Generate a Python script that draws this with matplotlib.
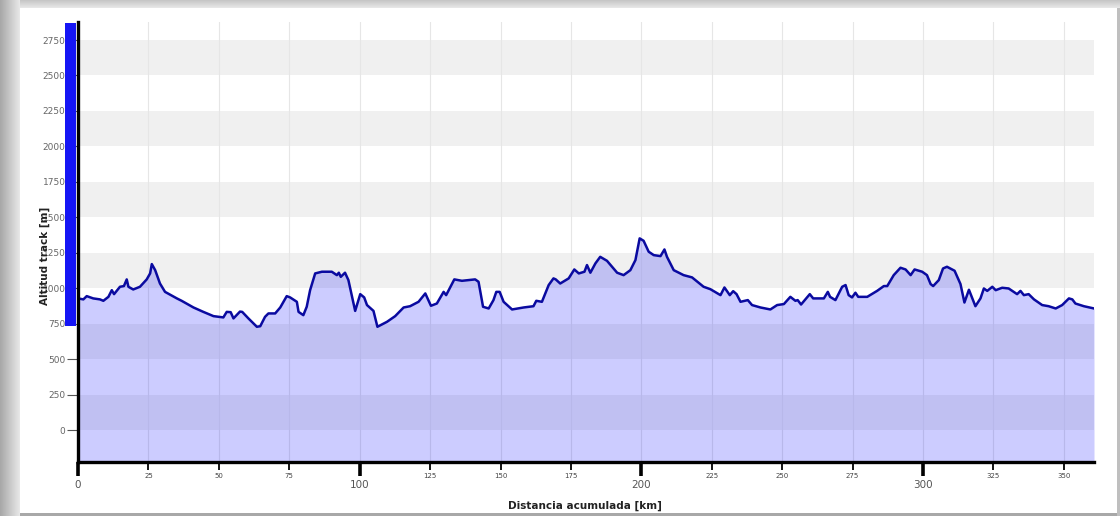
import numpy as np
import matplotlib
matplotlib.use("Agg")
import matplotlib.pyplot as plt
from matplotlib.patches import Rectangle
import matplotlib.transforms as mtransforms

# ---------------- data ----------------
dist_km = [0, 1.9, 3.1, 5.4, 7.8, 9.0, 10.8, 12.0, 12.8, 14.9, 16.3, 17.3, 17.9, 19.6,
           22.0, 24.4, 25.6, 26.2, 27.4, 29.1, 30.9, 35.1, 36.8, 41.0, 44.5, 48.1,
           51.6, 52.8, 54.2, 55.2, 57.5, 58.3, 60.5, 63.5, 64.7, 66.4, 67.6, 70.0,
           71.8, 74.1, 75.3, 77.7, 78.3, 80.0, 81.2, 82.4, 84.2, 86.6, 90.1, 91.9,
           92.6, 93.3, 94.8, 96.0, 98.4, 100.2, 101.6, 102.6, 104.9, 106.3, 109.7,
           112.6, 115.6, 117.9, 120.9, 123.3, 125.3, 127.4, 129.8, 130.7, 133.6,
           136.3, 141.0, 142.2, 143.8, 145.8, 147.5, 148.5, 149.7, 151.1, 154.1,
           158.2, 161.7, 162.7, 164.7, 167.1, 168.8, 169.6, 171.2, 174.2, 176.2,
           177.8, 179.8, 180.7, 181.9, 183.7, 185.4, 187.8, 191.4, 193.7, 196.1,
           197.9, 199.4, 200.8, 202.6, 204.4, 206.8, 208.2, 209.1, 211.5, 215.0,
           218.0, 222.1, 224.5, 228.1, 229.5, 231.4, 232.6, 233.8, 235.2, 237.8,
           239.3, 242.3, 245.8, 248.2, 250.6, 252.9, 254.7, 255.5, 256.7, 258.0,
           259.8, 261.0, 264.8, 266.2, 267.0, 268.9, 271.3, 272.5, 273.6, 274.8,
           276.0, 277.0, 280.2, 283.7, 286.1, 287.3, 289.6, 292.0, 293.8, 295.6,
           297.0, 299.7, 301.4, 302.7, 303.6, 305.6, 307.1, 308.5, 311.2, 313.3,
           314.7, 316.3, 318.6, 320.4, 321.6, 322.8, 324.6, 325.8, 328.1, 330.4,
           333.4, 334.6, 335.8, 337.5, 339.4, 342.3, 344.6, 347.1, 349.4, 351.8,
           353.0, 354.1, 357.1, 360.7]
altitude_m = [929, 922, 945, 929, 922, 912, 940, 987, 959, 1011, 1016, 1063, 1011, 992,
              1011, 1063, 1105, 1171, 1128, 1034, 975, 929, 912, 865, 834, 804,
              795, 834, 832, 788, 836, 834, 788, 729, 733, 799, 823, 823,
              865, 945, 936, 905, 834, 811, 870, 987, 1105, 1117, 1117, 1093,
              1110, 1081, 1110, 1058, 841, 959, 936, 882, 841, 729, 764,
              804, 865, 874, 905, 964, 877, 893, 975, 952, 1063,
              1053, 1063, 1046, 870, 858, 917, 975, 975, 905, 851,
              865, 874, 912, 905, 1023, 1070, 1063, 1034, 1070, 1133,
              1105, 1117, 1164, 1110, 1176, 1222, 1194, 1110, 1093, 1128,
              1199, 1352, 1335, 1258, 1234, 1227, 1274, 1222, 1128, 1093,
              1077, 1011, 994, 952, 1006, 952, 980, 959, 905, 917,
              882, 865, 851, 882, 889, 940, 912, 917, 886, 917,
              959, 929, 929, 975, 940, 917, 1011, 1023, 952, 936,
              969, 940, 940, 982, 1016, 1016, 1093, 1145, 1133, 1093,
              1133, 1117, 1093, 1030, 1016, 1058, 1140, 1152, 1124, 1030,
              900, 990, 874, 929, 999, 982, 1011, 987, 1004, 999,
              959, 982, 952, 959, 922, 882, 874, 858, 882, 929,
              922, 893, 874, 858]

y_ticks = [0, 250, 500, 750, 1000, 1250, 1500, 1750, 2000, 2250, 2500, 2750]
x_major = [0, 100, 200, 300]
x_minor = [25, 50, 75, 125, 150, 175, 225, 250, 275, 325, 350]
band_starts = [0, 500, 1000, 1500, 2000, 2500]
band_height = 250

xlabel = "Distancia acumulada [km]"
ylabel = "Altitud track [m]"

# ---------------- figure ----------------
W, H = 1120, 516
fig = plt.figure(figsize=(W / 100, H / 100), dpi=100)

# background frame with shadow
bg = fig.add_axes([0, 0, 1, 1])
img = np.ones((H, W)) * 1.0
xx = np.arange(W)[None, :] * np.ones((H, 1))
yy = np.arange(H)[:, None] * np.ones((1, W))
left = xx < 20
img[left] = (0.66 + 0.26 * (xx[left] / 20.0))
top = (yy < 8) & ~left
img[top] = 0.78 + 0.14 * (yy[top] / 8.0)
bottom = (yy >= 513) & ~left
img[bottom] = 0.66
right = (xx >= 1117) & ~left & ~top
img[right] = 0.75
bg.imshow(np.dstack([img] * 3), extent=[0, W, H, 0], aspect="auto", interpolation="bilinear")
bg.set_axis_off()

ax_l, ax_r = 78 / W, 1094 / W
ax_b, ax_t = 1 - 462 / H, 1 - 22 / H
ax = fig.add_axes([ax_l, ax_b, ax_r - ax_l, ax_t - ax_b])
ax.set_facecolor("white")
ax.set_xlim(0, dist_km[-1])
ax.set_ylim(-224, 2877)

for b in band_starts:
    ax.axhspan(b, b + band_height, color="#f0f0f0", lw=0, zorder=0)
for xv in x_major + x_minor:
    ax.axvline(xv, color="#e6e6e6", lw=0.8, zorder=0.5)

ax.fill_between(dist_km, altitude_m, -224, color=(0, 0, 1, 0.2), lw=0, zorder=1)
ax.plot(dist_km, altitude_m, color="#0a0aa0", lw=1.8, zorder=2, solid_joinstyle="round")

# axes styling
for s in ["top", "right"]:
    ax.spines[s].set_visible(False)
ax.spines["left"].set_linewidth(2.4)
ax.spines["bottom"].set_linewidth(2.4)
ax.spines["left"].set_color("black")
ax.spines["bottom"].set_color("black")

ax.set_yticks(y_ticks)
ax.set_yticklabels([str(v) for v in y_ticks], fontsize=6.5, color="#666666")
ax.tick_params(axis="y", length=8, width=0.8, color="#555555", pad=1)

ax.set_xticks(x_major)
ax.set_xticklabels([str(v) for v in x_major], fontsize=7.5, color="#555555")
ax.set_xticks(x_minor, minor=True)
ax.set_xticklabels([str(v) for v in x_minor], minor=True, fontsize=5, color="#444444")
ax.tick_params(axis="x", which="major", length=10, width=2.6, color="black", pad=3)
ax.tick_params(axis="x", which="minor", length=6, width=1.3, color="black", pad=2)

# blue indicator bar left of the axis
trans = mtransforms.blended_transform_factory(ax.transAxes, ax.transData)
bar = Rectangle((-13 / 1016, 733), 11 / 1016, 2870 - 733, transform=trans,
                facecolor="#1515f5", edgecolor="none", clip_on=False, zorder=3)
ax.add_patch(bar)

fig.text(45 / W, 1 - 256 / H, ylabel, rotation=90, ha="center", va="center",
         fontsize=7.5, fontweight="bold", color="#222222")
fig.text(585 / W, 1 - 506 / H, xlabel, ha="center", va="center",
         fontsize=7.5, fontweight="bold", color="#222222")

fig.savefig("out.png", dpi=100)
